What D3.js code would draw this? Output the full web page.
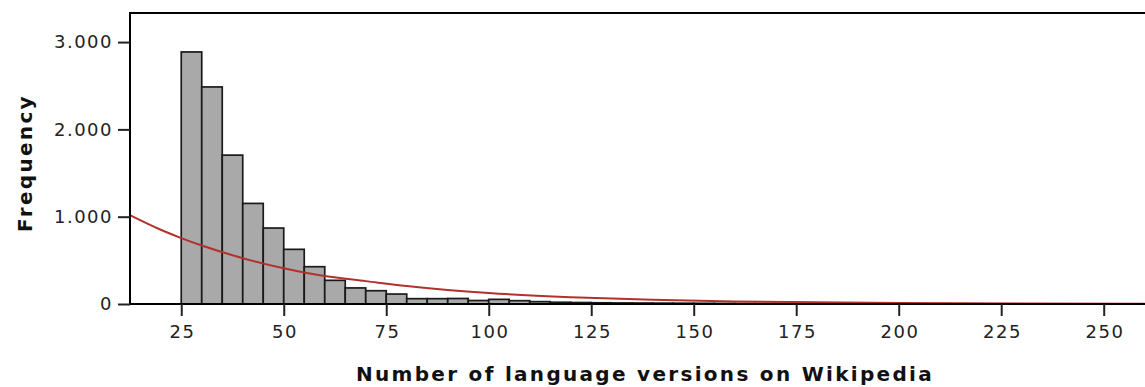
<!DOCTYPE html>
<html>
<head>
<meta charset="utf-8">
<script src="https://cdn.jsdelivr.net/npm/d3@7"></script>
<style>
  html, body { margin: 0; padding: 0; background: #fff; }
  svg { display: block; }
</style>
</head>
<body>
<svg id="chart" width="1145" height="387"></svg>
<script>
// ---- data ----
const binStarts = [25, 30, 35, 40, 45, 50, 55, 60, 65, 70, 75, 80, 85, 90, 95, 100, 105, 110, 115, 120,
  125, 130, 135, 140, 145, 150, 155, 160, 165, 170, 175, 180, 185, 190, 195, 200, 205, 210, 215, 220,
  225, 230, 235, 240, 245, 250, 255];
const binWidth = 5;
const frequencies = [2887, 2486, 1705, 1152, 870, 626, 427, 271, 184, 152, 114, 61, 61, 63, 40, 53, 38, 27, 20, 17,
  14, 12, 11, 10, 9, 8, 7, 6, 6, 5, 5, 4, 4, 3, 3, 3, 2, 2, 2, 2,
  2, 1, 1, 1, 1, 1, 1];
const curveX = [12.6, 20, 25, 30, 40, 50, 60, 70, 80, 90, 100, 120, 140, 160, 180, 200, 230, 263];
const curveY = [1015, 850, 755, 670, 525, 410, 320, 262, 205, 160, 125, 78, 48, 30, 19, 12, 6, 3];
const xTicks = [25, 50, 75, 100, 125, 150, 175, 200, 225, 250];
const yTicks = [0, 1000, 2000, 3000];
const xTitle = "Number of language versions on Wikipedia";
const yTitle = "Frequency";

// ---- layout ----
const svg = d3.select("#chart");
const pL = 130, pR = 1157, pT = 13, pB = 304;

const x = d3.scaleLinear().domain([12.5, 263]).range([pL, pR]);
const y = d3.scaleLinear().domain([0, 3333]).range([pB, pT]);

const locale = d3.formatLocale({decimal: ",", thousands: ".", grouping: [3], currency: ["", ""]});
const fmt = locale.format(",");

svg.append("clipPath").attr("id", "clip")
  .append("rect").attr("x", pL).attr("y", pT).attr("width", pR - pL).attr("height", pB - pT);

const plot = svg.append("g");

// bars
plot.append("g").selectAll("rect")
  .data(binStarts.map((s, i) => ({s, v: frequencies[i]})))
  .join("rect")
  .attr("x", d => x(d.s))
  .attr("y", d => y(d.v))
  .attr("width", d => x(d.s + binWidth) - x(d.s))
  .attr("height", d => y(0) - y(d.v))
  .attr("fill", "#a9a9a9")
  .attr("stroke", "#1a1a1a")
  .attr("stroke-width", 1.7);

// curve
const line = d3.line().x(d => x(d[0])).y(d => y(d[1])).curve(d3.curveMonotoneX);
plot.append("path")
  .datum(curveX.map((v, i) => [v, curveY[i]]))
  .attr("clip-path", "url(#clip)")
  .attr("d", line)
  .attr("fill", "none")
  .attr("stroke", "#b3312c")
  .attr("stroke-width", 2);

// frame
svg.append("rect")
  .attr("x", pL).attr("y", pT)
  .attr("width", pR - pL).attr("height", pB - pT)
  .attr("fill", "none").attr("stroke", "#000").attr("stroke-width", 2);

// axes
const textStyle = sel => sel.selectAll("text")
  .attr("font-family", "'DejaVu Sans', sans-serif")
  .attr("font-size", 18)
  .attr("letter-spacing", "1.5px")
  .attr("fill", "#222");

const yAxis = svg.append("g").attr("transform", `translate(${pL},0)`)
  .call(d3.axisLeft(y).tickValues(yTicks).tickFormat(fmt).tickSize(12).tickPadding(5));
yAxis.select(".domain").remove();
yAxis.selectAll("line").attr("stroke", "#222").attr("stroke-width", 2);
yAxis.call(textStyle);

const xAxis = svg.append("g").attr("transform", `translate(0,${pB})`)
  .call(d3.axisBottom(x).tickValues(xTicks).tickFormat(d => d).tickSize(12).tickPadding(9));
xAxis.select(".domain").remove();
xAxis.selectAll("line").attr("stroke", "#222").attr("stroke-width", 2);
xAxis.call(textStyle);
xAxis.selectAll("text").attr("dx", "0.75px");

// titles
svg.append("text")
  .attr("x", 645).attr("y", 381)
  .attr("text-anchor", "middle")
  .attr("font-family", "'DejaVu Sans', sans-serif")
  .attr("font-weight", "bold")
  .attr("font-size", 20)
  .attr("letter-spacing", "2.3px")
  .attr("fill", "#111")
  .text(xTitle);

svg.append("text")
  .attr("transform", "translate(32,163) rotate(-90)")
  .attr("text-anchor", "middle")
  .attr("font-family", "'DejaVu Sans', sans-serif")
  .attr("font-weight", "bold")
  .attr("font-size", 20)
  .attr("letter-spacing", "2.3px")
  .attr("fill", "#111")
  .text(yTitle);
</script>
</body>
</html>
